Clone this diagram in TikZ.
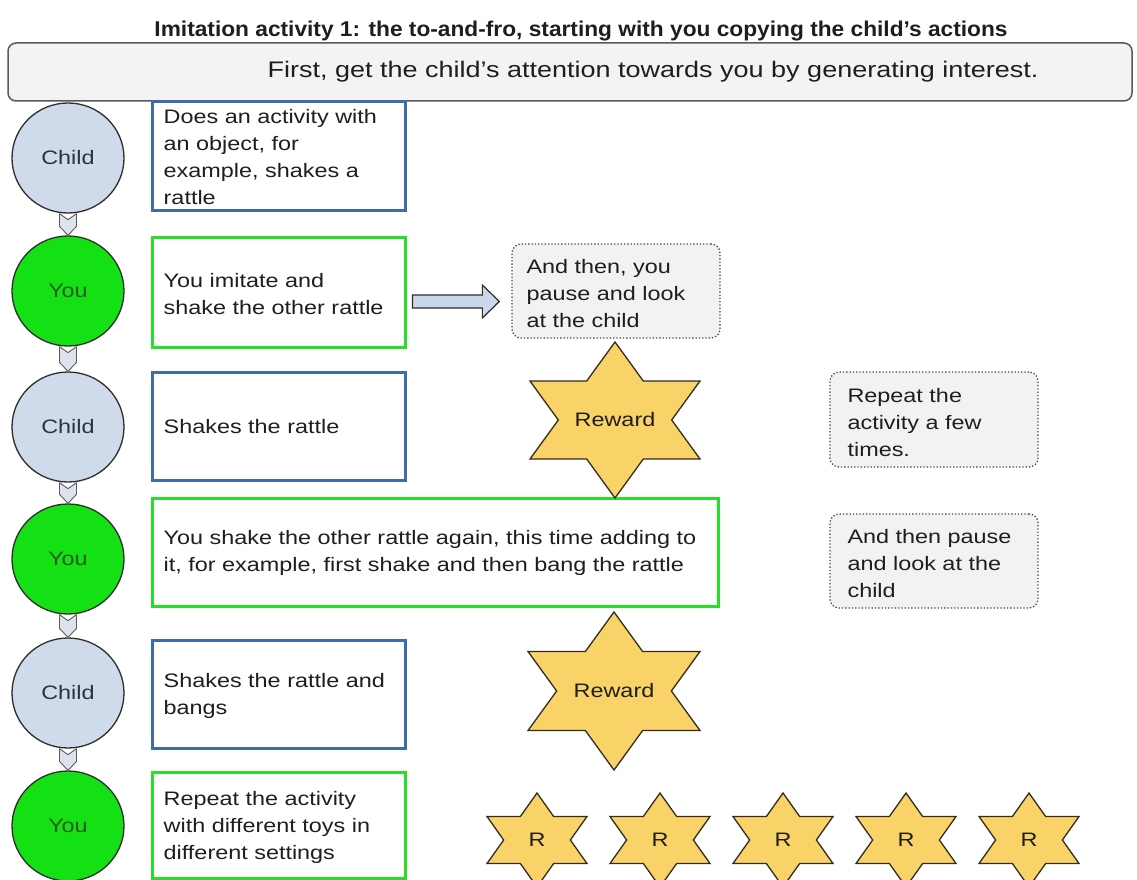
\documentclass[tikz,border=0pt]{standalone}
\usepackage{graphicx}
\usepackage{fontspec}
\setmainfont{Liberation Sans}[FakeStretch=1.2]
\usetikzlibrary{calc,shapes.geometric}
\definecolor{textc}{RGB}{30,30,30}
\definecolor{childfill}{RGB}{207,219,234}
\definecolor{youfill}{RGB}{20,225,20}
\definecolor{childtext}{RGB}{45,50,60}
\definecolor{youtext}{RGB}{40,90,30}
\definecolor{circb}{RGB}{45,45,45}
\definecolor{bluebord}{RGB}{61,110,170}
\definecolor{greenbord}{RGB}{40,222,40}
\definecolor{notefill}{RGB}{242,242,242}
\definecolor{notebord}{RGB}{70,70,70}
\definecolor{topfill}{RGB}{243,243,243}
\definecolor{topbord}{RGB}{90,90,90}
\definecolor{starfill}{RGB}{249,211,104}
\definecolor{starbord}{RGB}{50,45,30}
\definecolor{arrowfill}{RGB}{201,216,234}
\definecolor{chevfill}{RGB}{221,227,236}
\definecolor{chevbord}{RGB}{90,90,90}
\newcommand{\hexstar}[6]{%
  \draw[starsty, shift={(#2,#3)}, xscale=#4, yscale=#5]
    (0,-1) -- (0.333,-0.5) -- (1,-0.5) -- (0.667,0) -- (1,0.5) -- (0.333,0.5)
    -- (0,1) -- (-0.333,0.5) -- (-1,0.5) -- (-0.667,0) -- (-1,-0.5) -- (-0.333,-0.5) -- cycle;
  \node[startxt] (#1) at (#2,#3) {#6};}
\newcommand{\chevronlink}[2]{%
  \draw[chev] ($(#1.south)+(-8.5,0)$) -- ($(#1.south)+(0,6)$) -- ($(#1.south)+(8.5,0)$)
    -- ($(#2.north)+(8.5,-9)$) -- (#2.north) -- ($(#2.north)+(-8.5,-9)$) -- cycle;}
\begin{document}
\begin{tikzpicture}[x=1pt,y=-1pt,
  every node/.style={font=\fontsize{19.5}{27}\selectfont, text=textc},
  txt/.style={anchor=west, align=left, inner sep=0pt},
  roundc/.style={ellipse, draw=circb, line width=1.3pt, minimum width=112pt, minimum height=110pt, inner sep=0pt, font=\fontsize{19.5}{23}\selectfont},
  childc/.style={roundc, fill=childfill, text=childtext},
  youc/.style={roundc, fill=youfill, text=youtext},
  boxb/.style={rectangle, line width=3pt, fill=white, inner sep=0pt, minimum width=253pt, minimum height=108pt},
  bluebox/.style={boxb, draw=bluebord},
  greenbox/.style={boxb, draw=greenbord},
  note/.style={rectangle, draw=notebord, dotted, line width=1.3pt, fill=notefill, rounded corners=9pt, inner sep=0pt, minimum width=208pt, minimum height=94pt},
  topbox/.style={rectangle, draw=topbord, line width=1.5pt, fill=topfill, rounded corners=8pt, inner sep=0pt},
  chev/.style={draw=chevbord, fill=chevfill, line width=0.9pt, line join=round},
  blockarrow/.style={draw=circb, fill=arrowfill, line width=1.2pt, line join=miter},
  starsty/.style={draw=starbord, fill=starfill, line width=1.3pt, line join=miter},
  startxt/.style={inner sep=0pt, text=textc}
]
\useasboundingbox[fill=white] (0,0) rectangle (1137,880);

% title and intro
\node[anchor=base, inner sep=0pt] (title) at (581,37)
  {\resizebox{853pt}{15.5pt}{\bfseries Imitation activity 1: the to-and-fro, starting with you copying the child's actions}};
\node[topbox, minimum width=1124pt, minimum height=58pt] (top) at (570,72) {};
\node[inner sep=0pt, font=\fontsize{22.5}{26}\selectfont] (intro) at (653,72)
  {First, get the child's attention towards you by generating interest.};

% circles
\node[childc] (c1) at (68,158) {Child};
\node[youc]   (y1) at (68,291) {You};
\node[childc] (c2) at (68,427) {Child};
\node[youc]   (y2) at (68,559) {You};
\node[childc] (c3) at (68,693) {Child};
\node[youc]   (y3) at (68,826) {You};

\chevronlink{c1}{y1}
\chevronlink{y1}{c2}
\chevronlink{c2}{y2}
\chevronlink{y2}{c3}
\chevronlink{c3}{y3}

% boxes
\node[bluebox]  (b1) at (278.5,156) {};
\node[greenbox, minimum height=110pt] (b2) at (278.5,292) {};
\node[bluebox]  (b3) at (278.5,426) {};
\node[greenbox, minimum width=566pt] (b4) at (435,552) {};
\node[bluebox]  (b5) at (278.5,694) {};
\node[greenbox, minimum height=106pt] (b6) at (278.5,825) {};

\node[txt] (t1) at ($(b1.west)+(13,1)$) {Does an activity with\\an object, for\\example, shakes a\\rattle};
\node[txt] (t2) at ($(b2.west)+(13,2)$) {You imitate and\\shake the other rattle};
\node[txt] (t3) at ($(b3.west)+(13,1)$) {Shakes the rattle};
\node[txt] (t4) at ($(b4.west)+(13,1)$) {You shake the other rattle again, this time adding to\\it, for example, first shake and then bang the rattle};
\node[txt] (t5) at ($(b5.west)+(13,2)$) {Shakes the rattle and\\bangs};
\node[txt] (t6) at ($(b6.west)+(13,2)$) {Repeat the activity\\with different toys in\\different settings};

% notes
\node[note] (n1) at (616,291) {};
\node[note, minimum height=95pt] (n2) at (934,419.5) {};
\node[note] (n3) at (934,561) {};
\node[txt] (m1) at ($(n1.west)+(15,3)$) {And then, you\\pause and look\\at the child};
\node[txt] (m2) at ($(n2.west)+(18,3)$) {Repeat the\\activity a few\\times.};
\node[txt] (m3) at ($(n3.west)+(18,3)$) {And then pause\\and look at the\\child};

% block arrow from b2 to n1
\coordinate (a0) at ($(b2.east)+(6,9.5)$);
\coordinate (a1) at ($(n1.west)+(-12,10.5)$);
\draw[blockarrow] ($(a0)+(0,-6.5)$) -- ($(a1)+(-17,-6.5)$) -- ($(a1)+(-17,-16.5)$) -- (a1)
  -- ($(a1)+(-17,16.5)$) -- ($(a1)+(-17,6.5)$) -- ($(a0)+(0,6.5)$) -- cycle;

% stars
\hexstar{r1}{615}{420}{85}{78}{Reward}
\hexstar{r2}{614}{691}{86}{79}{Reward}
\hexstar{s1}{537}{840}{50}{47}{R}
\hexstar{s2}{660}{840}{50}{47}{R}
\hexstar{s3}{783}{840}{50}{47}{R}
\hexstar{s4}{906}{840}{50}{47}{R}
\hexstar{s5}{1029}{840}{50}{47}{R}
\end{tikzpicture}
\end{document}
